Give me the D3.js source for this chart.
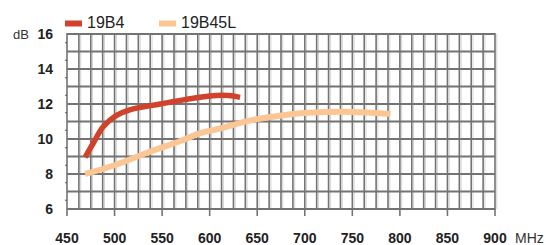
<!DOCTYPE html>
<html><head><meta charset="utf-8">
<script src="https://cdn.jsdelivr.net/npm/d3@7"></script>
<style>body{margin:0;background:#fff}svg{display:block}</style>
</head><body>
<svg id="c" width="551" height="245"></svg>
<script>
const seriesNames = ["19B4", "19B45L"];
const colors = ["#D0422B", "#FCC694"];
const freq19B4 = [469, 478, 488, 502, 516, 548, 583, 607, 620, 632];
const gain19B4 = [8.95, 9.8, 10.7, 11.35, 11.67, 12.0, 12.33, 12.49, 12.48, 12.38];
const freq19B45L = [469, 500, 537, 570, 590, 611, 642, 670, 695, 737, 765, 790];
const gain19B45L = [8.0, 8.5, 9.27, 9.9, 10.33, 10.6, 11.05, 11.3, 11.47, 11.56, 11.52, 11.43];
const xTicks = [450, 500, 550, 600, 650, 700, 750, 800, 850, 900];
const yTicks = [6, 8, 10, 12, 14, 16];

const svg = d3.select("#c");
const x = d3.scaleLinear().domain([450, 900]).range([67, 495]);
const y = d3.scaleLinear().domain([6, 16]).range([209, 34]);

// grid
const g = svg.append("g");
const vlines = d3.range(450, 900.1, 12.5);
g.selectAll("line.vs").data(vlines.slice(1)).enter().append("line")
  .attr("x1", d => x(d) + 1.8).attr("x2", d => x(d) + 1.8)
  .attr("y1", y(16)).attr("y2", y(6))
  .attr("stroke", "#d4d4d4").attr("stroke-width", 1);
g.selectAll("line.v").data(vlines).enter().append("line")
  .attr("x1", d => x(d)).attr("x2", d => x(d))
  .attr("y1", y(16) - 1).attr("y2", y(6) + 1)
  .attr("stroke", "#737373").attr("stroke-width", 1.6);
g.selectAll("line.h").data(d3.range(6, 16.1, 1)).enter().append("line")
  .attr("x1", x(450)).attr("x2", x(900))
  .attr("y1", d => y(d)).attr("y2", d => y(d))
  .attr("stroke", "#737373").attr("stroke-width", 2);

// bottom ticks
g.selectAll("line.xt").data(xTicks).enter().append("line")
  .attr("x1", d => x(d)).attr("x2", d => x(d))
  .attr("y1", y(6)).attr("y2", y(6) + 7)
  .attr("stroke", "#737373").attr("stroke-width", 1.6);
// minor left ticks
g.selectAll("line.yt").data(d3.range(6.5, 16, 1)).enter().append("line")
  .attr("x1", x(450) - 2).attr("x2", x(450))
  .attr("y1", d => y(d)).attr("y2", d => y(d))
  .attr("stroke", "#555").attr("stroke-width", 1.2);

// labels
svg.selectAll("text.xl").data(xTicks).enter().append("text")
  .attr("x", d => x(d)).attr("y", 243).attr("text-anchor", "middle")
  .attr("font-family", "Liberation Sans, Arial, sans-serif").attr("font-weight", "bold")
  .attr("font-size", 14).attr("fill", "#222").text(d => d);
svg.append("text").attr("x", 515).attr("y", 243)
  .attr("font-family", "Liberation Sans, Arial, sans-serif").attr("font-size", 14)
  .attr("fill", "#333").text("MHz");
svg.selectAll("text.yl").data(yTicks).enter().append("text")
  .attr("x", 53).attr("y", d => y(d) + 5).attr("text-anchor", "end")
  .attr("font-family", "Liberation Sans, Arial, sans-serif").attr("font-weight", "bold")
  .attr("font-size", 14).attr("fill", "#222").text(d => d);
svg.append("text").attr("x", 13).attr("y", 39)
  .attr("font-family", "Liberation Sans, Arial, sans-serif").attr("font-size", 13)
  .attr("fill", "#333").text("dB");

// curves
const line = d3.line().x(d => x(d[0])).y(d => y(d[1])).curve(d3.curveCatmullRom.alpha(0.5));
const data = [d3.zip(freq19B4, gain19B4), d3.zip(freq19B45L, gain19B45L)];
svg.selectAll("path.s").data(data).enter().append("path")
  .attr("d", line).attr("fill", "none")
  .attr("stroke", (d, i) => colors[i]).attr("stroke-width", (d, i) => i === 0 ? 5.5 : 6);

// legend
const legX = [65, 159];
seriesNames.forEach((n, i) => {
  svg.append("rect").attr("x", legX[i]).attr("y", 20.5).attr("width", 17).attr("height", 6)
    .attr("fill", colors[i]);
  svg.append("text").attr("x", legX[i] + 22).attr("y", 28)
    .attr("font-family", "Liberation Sans, Arial, sans-serif").attr("font-size", 16)
    .attr("fill", "#222").text(n);
});
</script>
</body></html>
